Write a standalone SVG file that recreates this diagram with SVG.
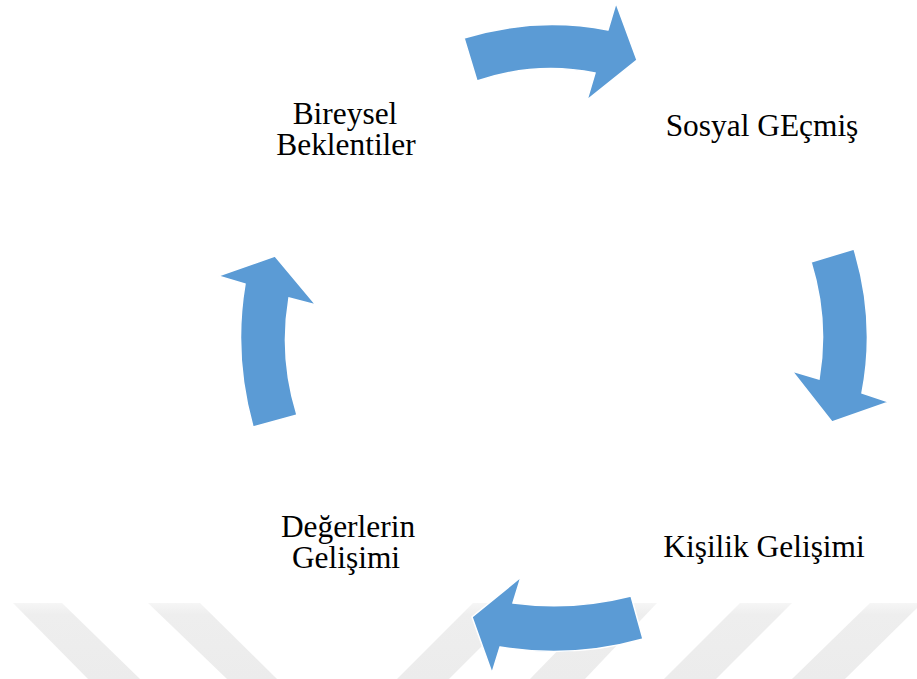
<svg xmlns="http://www.w3.org/2000/svg" width="917" height="679" viewBox="0 0 917 679">
<style>
.bg{fill:#ffffff}
.stripe{fill:url(#sg)}
.arrow{fill:#5B9BD5;stroke:#ffffff;stroke-width:1.5;stroke-linejoin:miter}
.lbl{font-family:"Liberation Serif","Times New Roman",serif;font-size:31.4px;fill:#000000;text-anchor:middle}
</style>
<defs>
<linearGradient id="sg" x1="0" y1="603" x2="0" y2="679" gradientUnits="userSpaceOnUse">
<stop offset="0" stop-color="#f6f6f6"/>
<stop offset="0.15" stop-color="#eeeeee"/>
<stop offset="1" stop-color="#ececec"/>
</linearGradient>
</defs>
<rect class="bg" x="0" y="0" width="917" height="679"/>
<g id="watermark">
<polygon class="stripe" points="13,603 62,603 140,679 88,679"/>
<polygon class="stripe" points="148,603 200,603 277,679 227,679"/>
<polygon class="stripe" points="473,603 525,603 449,679 397,679"/>
<polygon class="stripe" points="604,603 657,603 585,679 530,679"/>
<polygon class="stripe" points="740,603 792,603 716,679 664,679"/>
<polygon class="stripe" points="870,603 922,603 845,679 792,679"/>
</g>
<g id="connectors">
<path id="arrow-top" class="arrow" d="M464,38 Q536,16 608,30 L616,3 L637,60 L587,100 L595,73 Q536,61 477,81 Z"/>
<path id="arrow-right" class="arrow" d="M811,262 L854,249 Q876,321 862,393 L889,402 L832,422 L792,371 L819,379 Q829,320 811,262 Z"/>
<path id="arrow-bottom" class="arrow" d="M631,596 Q572,611 513,603 L521,577 L472,617 L492,673 L500,647 Q572,659 643,639 Z"/>
<path id="arrow-left" class="arrow" d="M253,427 L297,415 Q279,357 289,298 L316,305 L275,256 L218,276 L245,284 Q233,355 253,427 Z"/>
</g>
<g id="node-bireysel">
<text class="lbl" x="345" y="124">Bireysel</text>
<text class="lbl" x="346" y="155">Beklentiler</text>
</g>
<g id="node-sosyal">
<text class="lbl" x="762" y="136">Sosyal GEçmiş</text>
</g>
<g id="node-kisilik">
<text class="lbl" x="764" y="557">Kişilik Gelişimi</text>
</g>
<g id="node-degerler">
<text class="lbl" x="348" y="537">Değerlerin</text>
<text class="lbl" x="346" y="568">Gelişimi</text>
</g>
</svg>
